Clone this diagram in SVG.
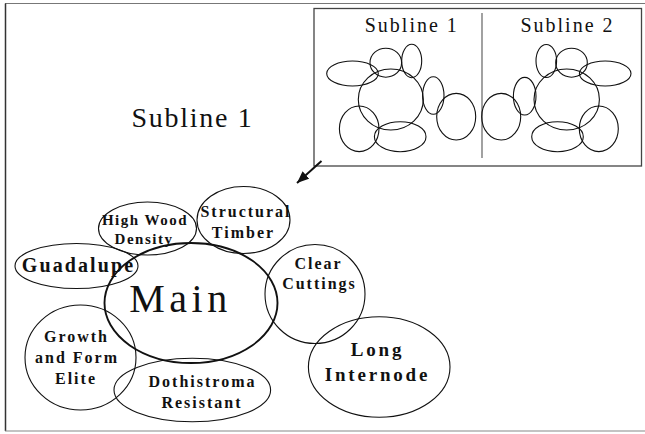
<svg xmlns="http://www.w3.org/2000/svg" width="645" height="434" viewBox="0 0 645 434">
<style>
.el{fill:none;stroke:#111;stroke-width:1.1}
.main{fill:none;stroke:#111;stroke-width:1.9}
.lbl{font-family:"Liberation Serif","Times New Roman",serif;font-weight:bold;fill:#111;text-anchor:middle;font-size:16px;letter-spacing:2px}
.hw{font-size:15px;letter-spacing:1.5px}
.big{font-size:20px;letter-spacing:2.1px}
.li{font-size:19px;letter-spacing:2.8px}
.title{font-family:"Liberation Serif","Times New Roman",serif;fill:#111}
</style>
<defs>
<marker id="ah" markerUnits="userSpaceOnUse" markerWidth="14" markerHeight="12" refX="12" refY="5" orient="auto">
<path d="M0,0 L12,5 L0,10 Z" fill="#111"/>
</marker>
</defs>
<rect width="645" height="434" fill="#fff"/>
<g id="frame" fill="none">
<line x1="5" y1="3.5" x2="645" y2="3.5" stroke="#777" stroke-width="1.2"/>
<line x1="5.5" y1="3.5" x2="5.5" y2="431" stroke="#333" stroke-width="1.5"/>
<line x1="5" y1="431" x2="645" y2="431" stroke="#888" stroke-width="1.2"/>
</g>
<g id="inset">
<rect x="314" y="8.5" width="327.5" height="157.5" fill="none" stroke="#444" stroke-width="1.3"/>
<line x1="482" y1="13" x2="482" y2="158" stroke="#555" stroke-width="1.1"/>
<text class="title" x="411.8" y="32" font-size="20" letter-spacing="2" text-anchor="middle">Subline 1</text>
<text class="title" x="567.5" y="32" font-size="20" letter-spacing="2" text-anchor="middle">Subline 2</text>
<ellipse class="el" cx="352.5" cy="73.5" rx="25.8" ry="12.5"/>
<ellipse class="el" cx="385.8" cy="62.7" rx="15.8" ry="14.5"/>
<ellipse class="el" cx="411.7" cy="61" rx="10" ry="16.7"/>
<ellipse class="el" cx="390.8" cy="99.5" rx="32.5" ry="30.5"/>
<ellipse class="el" cx="433.3" cy="95.5" rx="10.7" ry="18.8"/>
<ellipse class="el" cx="456.2" cy="116.7" rx="19.5" ry="23.3"/>
<ellipse class="el" cx="359.2" cy="128.8" rx="19.8" ry="22.8"/>
<ellipse class="el" cx="400.2" cy="136.7" rx="25.8" ry="15"/>
<ellipse class="el" cx="501.2" cy="116.7" rx="19.5" ry="23.3"/>
<ellipse class="el" cx="524.7" cy="96.2" rx="11.3" ry="18.8"/>
<ellipse class="el" cx="546.3" cy="61" rx="10.3" ry="16.5"/>
<ellipse class="el" cx="571.5" cy="62.7" rx="15.8" ry="14.5"/>
<ellipse class="el" cx="605.2" cy="73.5" rx="25.8" ry="12.5"/>
<ellipse class="el" cx="566.7" cy="99.5" rx="32.7" ry="30.5"/>
<ellipse class="el" cx="598.8" cy="128.8" rx="19.5" ry="22.8"/>
<ellipse class="el" cx="557.5" cy="136.7" rx="25.8" ry="15"/>
</g>
<text id="subline-title" class="title" x="192.5" y="127" font-size="28" letter-spacing="1.7" text-anchor="middle">Subline 1</text>
<g id="connectors">
<line x1="321.5" y1="161" x2="297" y2="183" stroke="#111" stroke-width="2" marker-end="url(#ah)"/>
</g>
<g id="high-wood-density">
<ellipse class="el" cx="147.5" cy="228.5" rx="49" ry="26.5"/>
<text class="lbl hw" x="145" y="225">High Wood</text>
<text class="lbl hw" x="144" y="243.5">Density</text>
</g>
<g id="structural-timber">
<ellipse class="el" cx="243.5" cy="220" rx="46.5" ry="33.5"/>
<text class="lbl" x="246" y="216.5">Structural</text>
<text class="lbl" x="243.5" y="237.5">Timber</text>
</g>
<g id="guadalupe">
<ellipse class="el" cx="76.5" cy="266" rx="61.5" ry="22.5"/>
<text class="lbl big" x="78.5" y="271.5">Guadalupe</text>
</g>
<g id="main">
<ellipse class="main" cx="191" cy="303" rx="86.5" ry="60"/>
<text class="title" x="180.5" y="312" font-size="40" letter-spacing="4.5" text-anchor="middle">Main</text>
</g>
<g id="clear-cuttings">
<ellipse class="el" cx="315" cy="294" rx="50" ry="49.5"/>
<text class="lbl" x="318.5" y="268.5">Clear</text>
<text class="lbl" x="319.5" y="289">Cuttings</text>
</g>
<g id="growth-form-elite">
<ellipse class="el" cx="80.5" cy="357.5" rx="55.5" ry="52.5"/>
<text class="lbl" x="76.5" y="341.5">Growth</text>
<text class="lbl" x="77" y="362.5">and Form</text>
<text class="lbl" x="76" y="383.5">Elite</text>
</g>
<g id="dothistroma-resistant">
<ellipse class="el" cx="192.3" cy="390" rx="78.3" ry="31.7"/>
<text class="lbl" x="202.5" y="386.5">Dothistroma</text>
<text class="lbl" x="202" y="407.5">Resistant</text>
</g>
<g id="long-internode">
<ellipse class="el" cx="379.2" cy="367" rx="70.8" ry="50.3"/>
<text class="lbl li" x="377.5" y="356">Long</text>
<text class="lbl li" x="377.5" y="380.5">Internode</text>
</g>
</svg>
